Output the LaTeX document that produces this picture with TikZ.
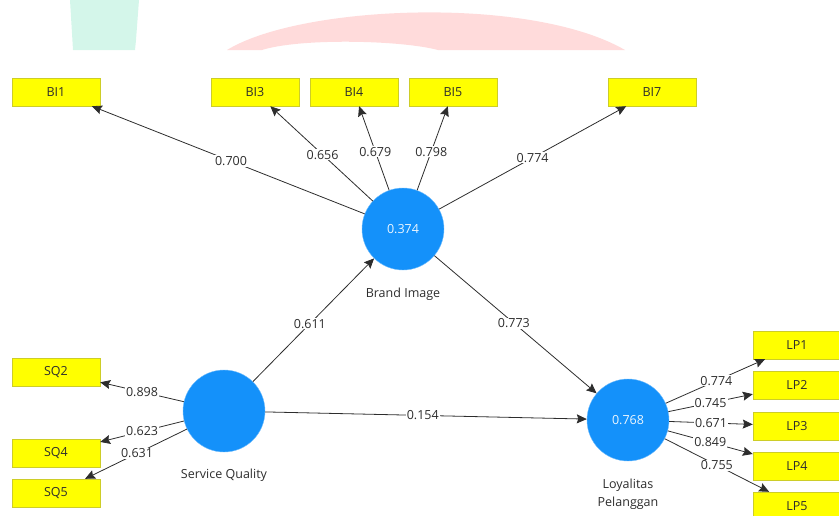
\documentclass[tikz,border=0pt]{standalone}
\usepackage{fontspec}
\setmainfont{Open Sans}
\usetikzlibrary{arrows.meta,positioning}
\definecolor{plsblue}{RGB}{20,145,250}
\definecolor{plsyellow}{RGB}{255,255,0}
\definecolor{plsedge}{RGB}{205,205,40}
\definecolor{plstext}{RGB}{45,45,45}
\definecolor{wmgreen}{RGB}{212,246,234}
\definecolor{wmpink}{RGB}{255,219,219}
\tikzset{
  latent/.style={circle, fill=plsblue, draw=plsblue!60!white, minimum size=82pt,
                 inner sep=0pt, font=\fontsize{12.5}{14}\selectfont, text=white!92!plsblue},
  indbox/.style={draw=plsedge, fill=plsyellow, minimum width=88pt, minimum height=28pt,
                 inner sep=0pt, font=\fontsize{12.5}{14}\selectfont, text=plstext},
  lvname/.style={font=\fontsize{12.5}{18}\selectfont, text=plstext, align=center},
  coef/.style={fill=white, inner sep=1pt, font=\fontsize{12.5}{14}\selectfont, text=plstext},
  loading/.style={draw=plstext, line width=0.8pt, -{Stealth[length=10pt,width=9pt,inset=1.5pt]}},
}
\begin{document}
\begin{tikzpicture}[x=1pt, y=-1pt]
\useasboundingbox (0,0) rectangle (839,515);
\clip (0,0) rectangle (839,515);
% Faint background marks
\fill[wmgreen] (70,0) -- (139,0) -- (136,40) -- (135,50) -- (73,50) -- cycle;
\fill[wmpink] (227,50) .. controls (300,5) and (530,-5) .. (625,50) -- (438,50)
  .. controls (400,40) and (300,38) .. (262,50) -- cycle;
% Constructs
\node[latent] (bi) at (403,229) {0.374};
\node[latent] (sq) at (224,411) {};
\node[latent] (lp) at (628,420) {0.768};
\node[lvname, below=14pt of bi] (binm) {Brand Image};
\node[lvname, below=13pt of sq] (sqnm) {Service Quality};
\node[lvname, below=14pt of lp] (lpnm) {Loyalitas\\Pelanggan};
% Indicators: Brand Image
\node[indbox] (bi1) at (56,92) {BI1};
\node[indbox] (bi3) at (255,92) {BI3};
\node[indbox] (bi4) at (354,92) {BI4};
\node[indbox] (bi5) at (453,92) {BI5};
\node[indbox] (bi7) at (652,92) {BI7};
% Indicators: Service Quality
\node[indbox] (sq2) at (56,372) {SQ2};
\node[indbox] (sq4) at (56,453) {SQ4};
\node[indbox] (sq5) at (56,493) {SQ5};
% Indicators: Loyalitas Pelanggan
\node[indbox] (lp1) at (797,345) {LP1};
\node[indbox] (lp2) at (797,385) {LP2};
\node[indbox] (lp3) at (797,426) {LP3};
\node[indbox] (lp4) at (797,466) {LP4};
\node[indbox] (lp5) at (797,506) {LP5};
% Outer loadings
\draw[loading] (bi) -- (bi1) node[coef, pos=0.49] {0.700};
\draw[loading] (bi) -- (bi3) node[coef, pos=0.49] {0.656};
\draw[loading] (bi) -- (bi4) node[coef, pos=0.46] {0.679};
\draw[loading] (bi) -- (bi5) node[coef, pos=0.46] {0.798};
\draw[loading] (bi) -- (bi7) node[coef, pos=0.5] {0.774};
\draw[loading] (sq) -- (sq2) node[coef, pos=0.5] {0.898};
\draw[loading] (sq) -- (sq4) node[coef, pos=0.5] {0.623};
\draw[loading] (sq) -- (sq5) node[coef, pos=0.49] {0.631};
\draw[loading] (lp) -- (lp1) node[coef, pos=0.51] {0.774};
\draw[loading] (lp) -- (lp2) node[coef, pos=0.5] {0.745};
\draw[loading] (lp) -- (lp3) node[coef, pos=0.5] {0.671};
\draw[loading] (lp) -- (lp4) node[coef, pos=0.5] {0.849};
\draw[loading] (lp) -- (lp5) node[coef, pos=0.5] {0.755};
% Inner paths
\draw[loading] (sq) -- (bi) node[coef, pos=0.47] {0.611};
\draw[loading] (bi) -- (lp) node[coef, pos=0.49] {0.773};
\draw[loading] (sq) -- (lp) node[coef, pos=0.49] {0.154};
\end{tikzpicture}
\end{document}
